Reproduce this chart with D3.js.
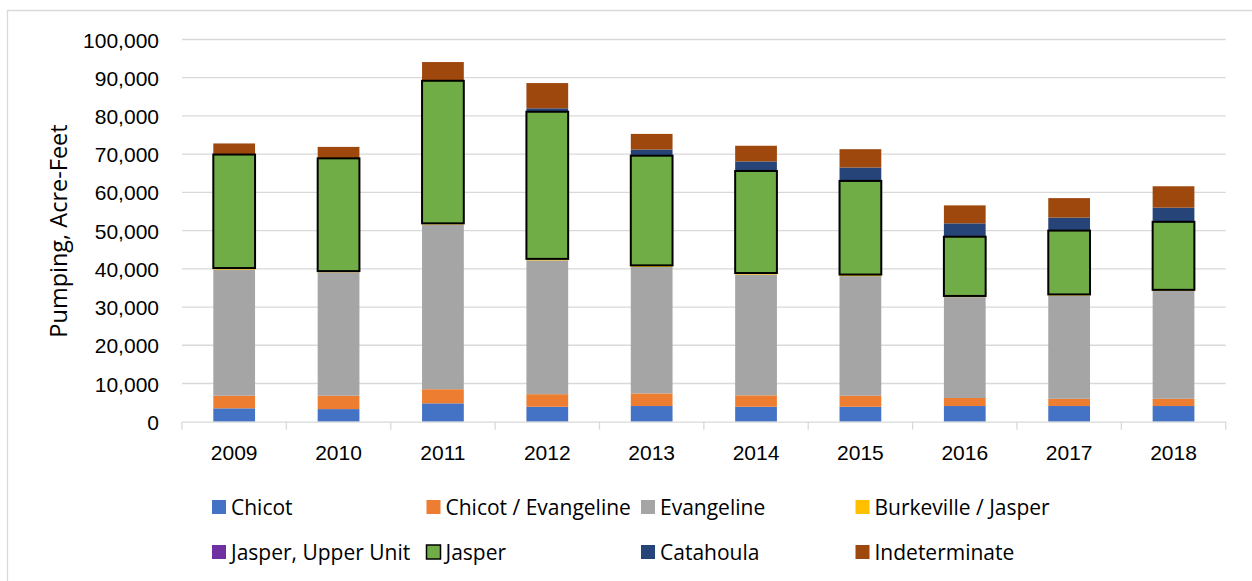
<!DOCTYPE html>
<html lang="en">
<head>
<meta charset="utf-8">
<style>
  body { margin: 0; background: white; }
  svg { display: block; font-family: "Open Sans", sans-serif; }
  .grid line { stroke: #d9d9d9; stroke-width: 1.3px; }
  .tick text { fill: #000; }
</style>
<script src="https://cdn.jsdelivr.net/npm/d3@7"></script>
</head>
<body>
<script>
// values, acre-feet per year
var years = ["2009", "2010", "2011", "2012", "2013", "2014", "2015", "2016", "2017", "2018"];
var chicot           = [3500, 3300, 4800, 3900, 4100, 3900, 3900, 4100, 4100, 4100];
var chicotEvangeline = [3300, 3500, 3700, 3300, 3300, 3000, 2900, 2100, 1900, 1900];
var evangeline       = [33000, 32300, 43100, 35000, 33100, 31600, 31300, 26400, 27000, 28200];
var burkevilleJasper = [400, 300, 300, 400, 400, 400, 400, 300, 300, 300];
var jasperUpper      = [0, 0, 0, 0, 0, 0, 0, 0, 0, 0];
var jasper           = [29700, 29500, 37300, 38500, 28700, 26700, 24500, 15500, 16700, 17800];
var catahoula        = [0, 0, 200, 900, 1600, 2500, 3500, 3500, 3400, 3700];
var indeterminate    = [2900, 3000, 4700, 6600, 4100, 4100, 4800, 4700, 5100, 5600];

var seriesNames = ["Chicot", "Chicot / Evangeline", "Evangeline", "Burkeville / Jasper",
                   "Jasper, Upper Unit", "Jasper", "Catahoula", "Indeterminate"];
var seriesValues = [chicot, chicotEvangeline, evangeline, burkevilleJasper,
                    jasperUpper, jasper, catahoula, indeterminate];
var colors = ["#4472c4", "#ed7d31", "#a5a5a5", "#ffc000", "#7030a0", "#70ad47", "#264478", "#9e480e"];
var yTicks = [0, 10000, 20000, 30000, 40000, 50000, 60000, 70000, 80000, 90000, 100000];

var width = 1252, height = 581;

var svg = d3.select("body").append("svg")
    .attr("width", width)
    .attr("height", height);

// chart frame (only left and top edges are inside the picture)
svg.append("path")
    .attr("d", "M7.5,581V10.5H1252")
    .attr("fill", "none")
    .attr("stroke", "#d9d9d9")
    .attr("stroke-width", 1.3);

var rows = years.map(function(y, i) {
  var r = { year: y };
  seriesNames.forEach(function(s, k) { r[s] = seriesValues[k][i]; });
  return r;
});
var stacked = d3.stack().keys(seriesNames)(rows);

var x = d3.scaleBand().domain(years).range([182, 1225.7])
    .paddingInner(0.6).paddingOuter(0.3);
var y = d3.scaleLinear().domain([0, 100000]).range([421.7, 39.5]);

// gridlines
svg.append("g").attr("class", "grid")
  .selectAll("line")
  .data(yTicks.slice(1))
  .enter().append("line")
    .attr("x1", 182).attr("x2", 1225.7)
    .attr("y1", function(d) { return y(d); })
    .attr("y2", function(d) { return y(d); });

// y axis labels
var yAxis = svg.append("g")
    .attr("transform", "translate(182,0)")
    .call(d3.axisLeft(y).tickValues(yTicks).tickFormat(d3.format(",")).tickSize(0).tickPadding(23));
yAxis.select(".domain").remove();
yAxis.selectAll("text").style("font-size", "21px").attr("dy", "0.36em");

// bars
var layers = svg.append("g").selectAll("g")
  .data(stacked)
  .enter().append("g")
    .attr("fill", function(d, i) { return colors[i]; });

layers.selectAll("rect")
  .data(function(d) { return d; })
  .enter().append("rect")
    .attr("x", function(d) { return x(d.data.year); })
    .attr("width", x.bandwidth())
    .attr("y", function(d) { return y(d[1]); })
    .attr("height", function(d) { return y(d[0]) - y(d[1]); });

// Jasper gets the black outline, keep it on top
layers.filter(function(d) { return d.key === "Jasper"; })
    .attr("stroke", "#000")
    .attr("stroke-width", 2)
    .raise();

// x axis
var xAxis = svg.append("g")
    .attr("transform", "translate(0,421.7)")
    .call(d3.axisBottom(x).tickSize(0).tickPadding(23));
xAxis.select(".domain").attr("stroke", "#d9d9d9").attr("stroke-width", 1.3);
xAxis.selectAll("text").style("font-size", "21px");

// category separators below the axis
var bounds = years.map(function(d) { return x(d) - x.step() * x.paddingOuter(); });
bounds.push(1225.7);
xAxis.selectAll(".sep")
  .data(bounds)
  .enter().append("line")
    .attr("class", "sep")
    .attr("x1", function(d) { return d; }).attr("x2", function(d) { return d; })
    .attr("y1", 0).attr("y2", 8)
    .attr("stroke", "#d9d9d9").attr("stroke-width", 1.3);

// y axis title
svg.append("text")
    .attr("transform", "translate(67,231) rotate(-90)")
    .attr("text-anchor", "middle")
    .style("font-size", "23.5px")
    .text("Pumping, Acre-Feet");

// legend, 4 columns x 2 rows
var legend = svg.append("g").selectAll("g")
  .data(seriesNames)
  .enter().append("g")
    .attr("transform", function(d, i) {
      return "translate(" + (212 + (i % 4) * 214.5) + "," + (507 + Math.floor(i / 4) * 45) + ")";
    });

legend.append("rect")
    .attr("x", 0).attr("y", -7)
    .attr("width", 14).attr("height", 14)
    .attr("fill", function(d, i) { return colors[i]; })
    .attr("stroke", function(d) { return d === "Jasper" ? "#000" : "none"; })
    .attr("stroke-width", 1.5);

legend.append("text")
    .attr("x", 19)
    .attr("dy", "0.36em")
    .style("font-size", "21px")
    .text(function(d) { return d; });
</script>
</body>
</html>
